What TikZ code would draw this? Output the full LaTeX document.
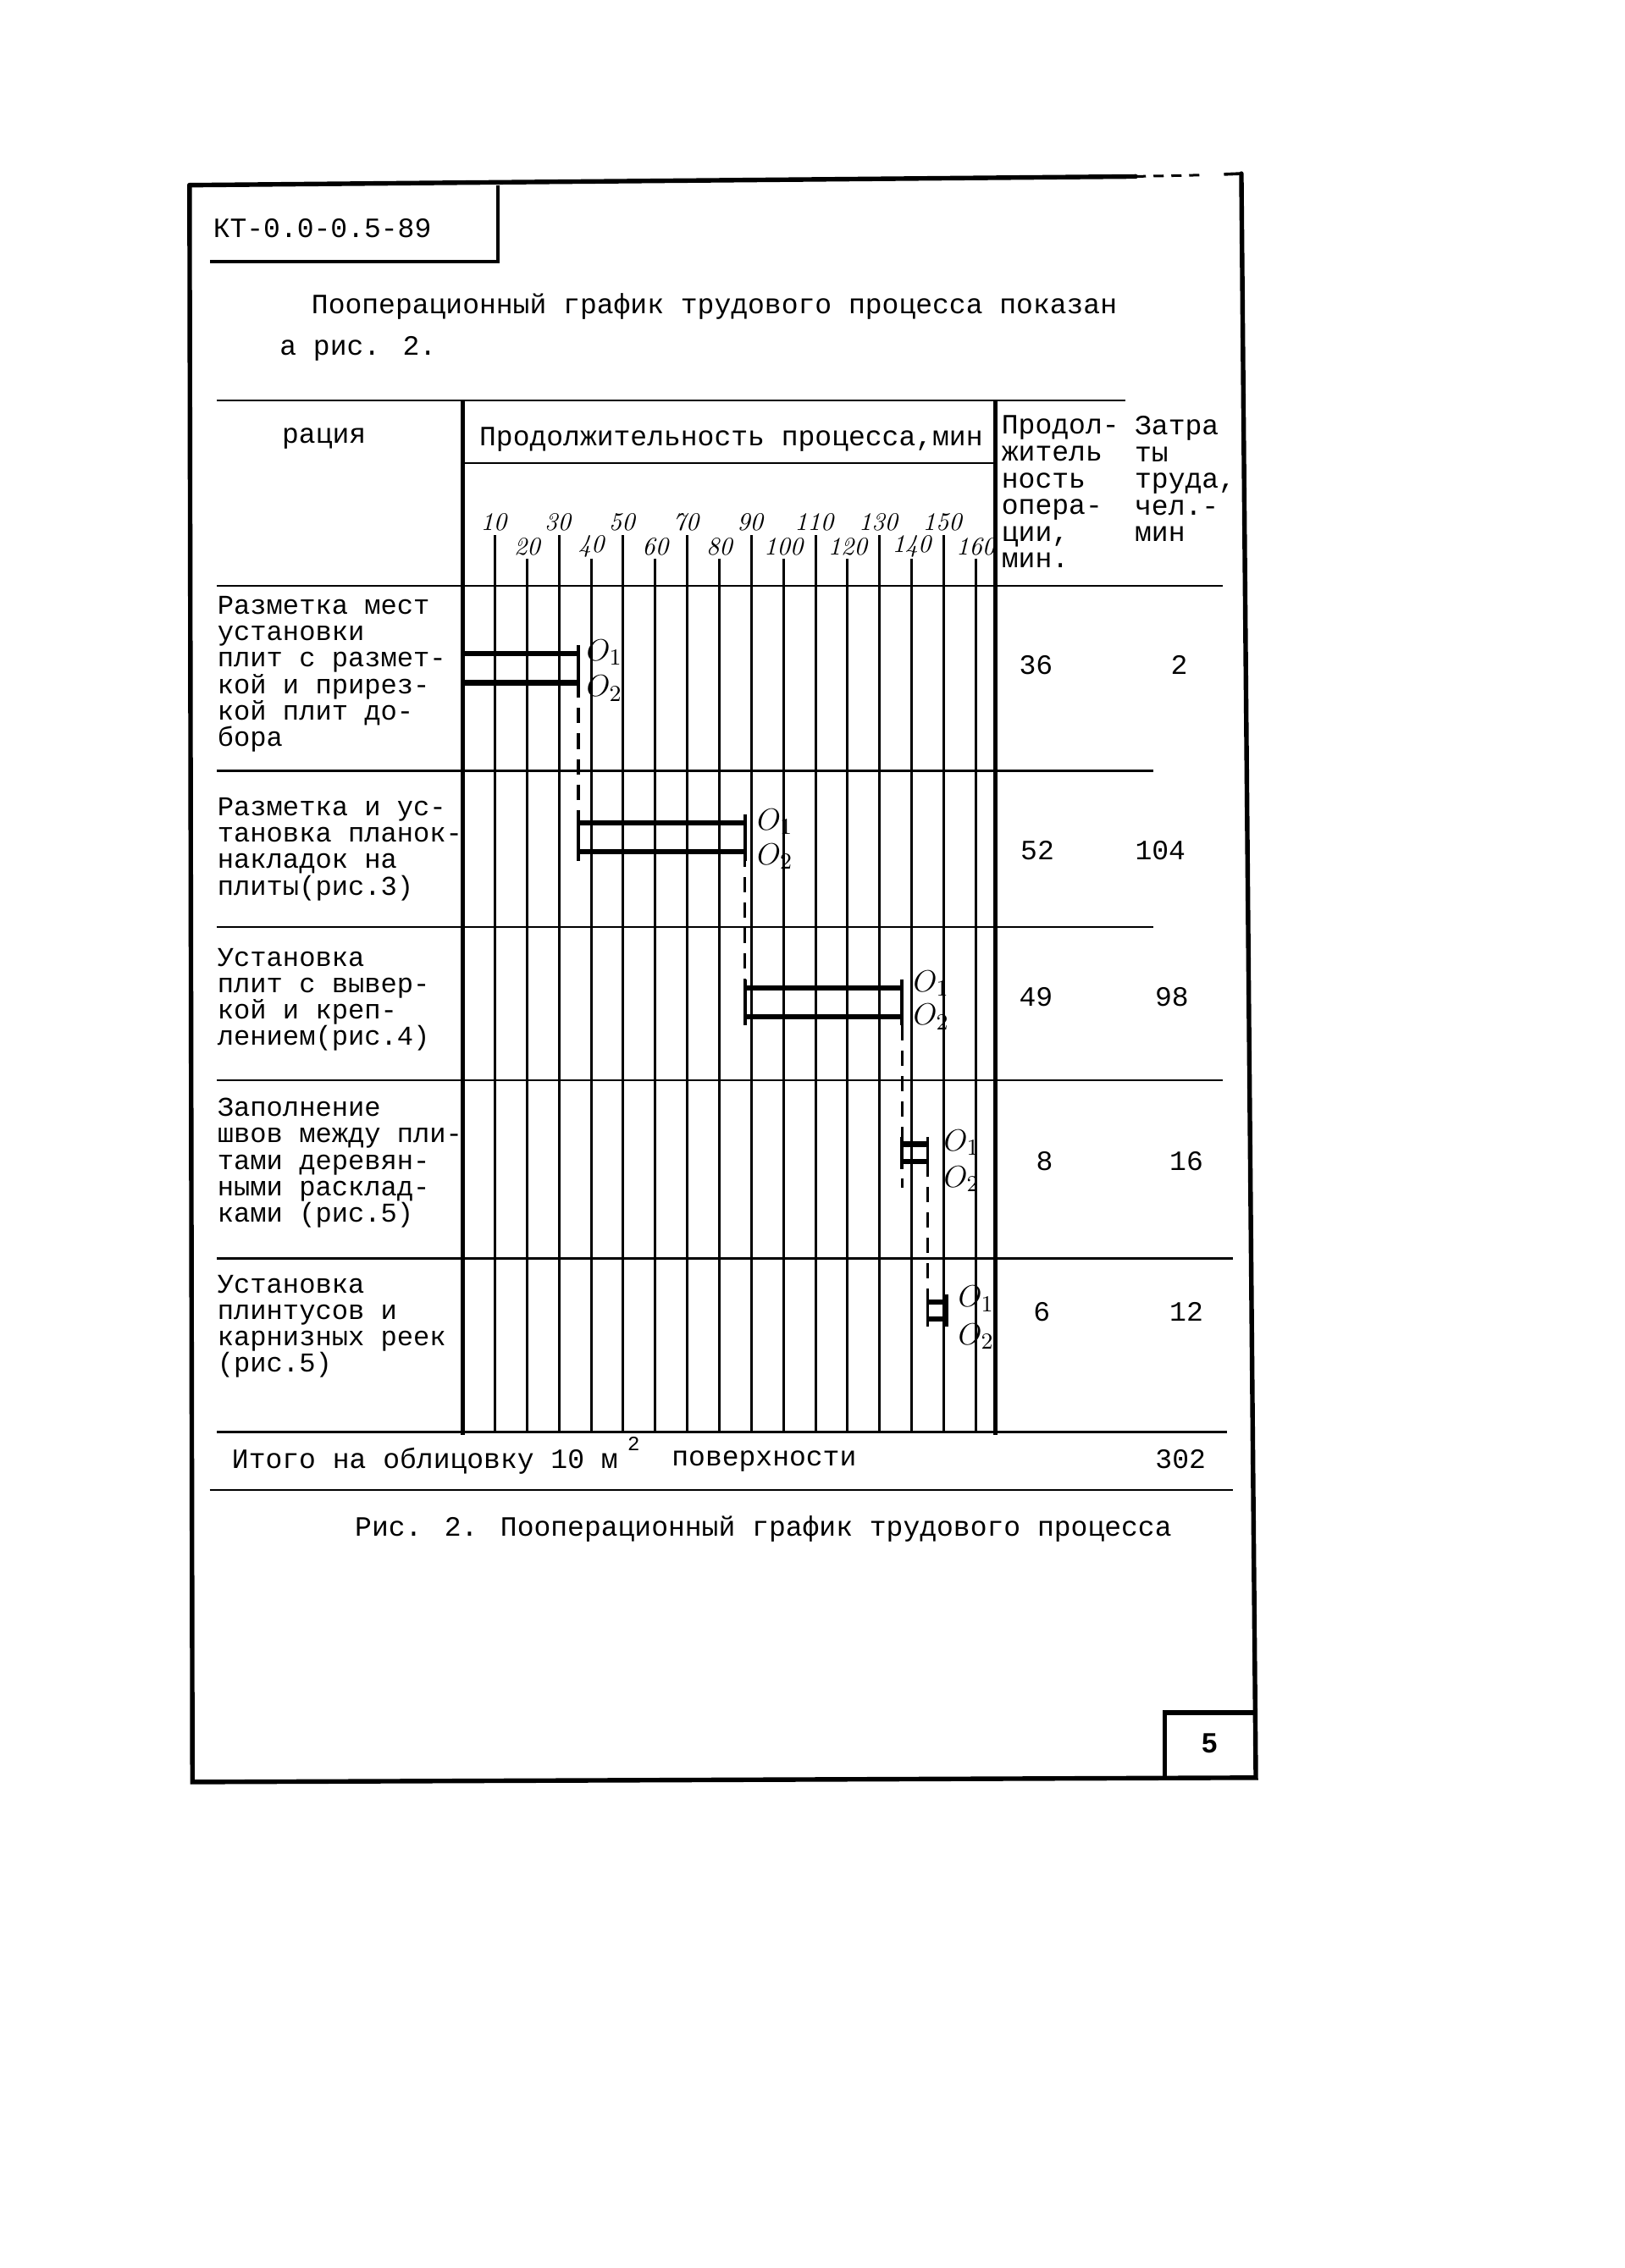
\documentclass[tikz,border=0pt]{standalone}
\usepackage{fontspec}
\newfontfamily\tw{Liberation Mono}
\newfontfamily\pnum{Liberation Sans}
\begin{document}
\begin{tikzpicture}[x=0.2mm,y=-0.2mm,
  frame/.style={line width=1.8pt, line cap=round},
  boxline/.style={line width=1.4pt},
  thinline/.style={line width=0.8pt},
  divider/.style={line width=1.5pt},
  gridline/.style={line width=1pt},
  barline/.style={line width=2.1pt},
  endtick/.style={line width=1.3pt},
  link/.style={line width=1.1pt, dash pattern=on 6pt off 4pt},
  txt/.style={font=\tw\fontsize{11}{10.5}\selectfont, inner sep=0pt, align=left},
  rowtxt/.style={font=\tw\fontsize{10.7}{10.4}\selectfont, inner sep=0pt, align=left, anchor=west},
  ttl/.style={txt, anchor=west},
  scalelbl/.style={font=\fontsize{10}{10}\selectfont\itshape, inner sep=0pt},
  olbl/.style={font=\fontsize{13}{13}\selectfont, inner sep=0pt, anchor=west},
]
\useasboundingbox[fill=white] (0,0) rectangle (1123,1568);

% outer frame
\coordinate (ftl) at (131,128);
\coordinate (ftm) at (785,122);
\coordinate (ftd) at (832,121);
\coordinate (ftn) at (846,120.5);
\coordinate (ftr) at (858,120);
\coordinate (fbr) at (868,1229);
\coordinate (fbl) at (133,1232);
\draw[frame] (ftl) -- (ftm);
\draw[line width=1pt, dash pattern=on 4pt off 3pt] (ftm) -- (ftd);
\draw[line width=1.2pt] (ftn) -- (ftr);
\draw[frame] (ftr) -- (fbr) -- (fbl) -- (ftl);

% document code box
\coordinate (cb1) at (344,128);
\coordinate (cb2) at (344,181);
\coordinate (cb3) at (145,181);
\draw[boxline] (cb1) -- (cb2) -- (cb3);
\node[ttl] (code) at (147,158) {КТ-0.0-0.5-89};

% paragraph
\node[ttl] (para1) at (215,212) {Пооперационный график трудового процесса показан};
\node[ttl] (para2) at (193,241) {а рис. 2.};

% table rules
\draw[thinline] (150,277) -- (778,277);
\draw[divider] (320,277) -- (320,992);
\draw[divider] (688,277) -- (688,992);
\draw[thinline] (320,320) -- (688,320);
\draw[thinline] (150,405) -- (845,405);
\draw[thinline] (150,533) -- (797,533);
\draw[thinline] (150,641) -- (797,641);
\draw[thinline] (150,747) -- (845,747);
\draw[thinline] (150,870) -- (852,870);
\draw[thinline] (150,990) -- (848,990);
\draw[thinline] (145,1030) -- (852,1030);

% header
\node[txt] (hop) at (224,303) {рация};
\node[ttl] (hdur) at (331,304) {Продолжительность процесса,мин};
\node[txt, anchor=west] (hopdur) at (692,340) {Продол-\\житель\\ность\\опера-\\ции,\\мин.};
\node[txt, anchor=west] (hlab) at (784,331) {Затра\\ты\\труда,\\чел.-\\мин};

% time grid
\foreach \t in {10,30,...,150} {
  \draw[gridline] ({320+2.215*\t},370) -- ({320+2.215*\t},990);
  \node[scalelbl] (s\t) at ({320+2.215*\t-1},361) {\t};
}
\foreach \t in {20,40,...,160} {
  \draw[gridline] ({320+2.215*\t},386) -- ({320+2.215*\t},990);
  \node[scalelbl] (s\t) at ({320+2.215*\t},378) {\t};
}

% operation names
\node[rowtxt] (r1) at (150,466) {Разметка мест\\установки\\плит с размет-\\кой и прирез-\\кой плит до-\\бора};
\node[rowtxt] (r2) at (150,587) {Разметка и ус-\\тановка планок-\\накладок на\\плиты(рис.3)};
\node[rowtxt] (r3) at (150,691) {Установка\\плит с вывер-\\кой и креп-\\лением(рис.4)};
\node[rowtxt] (r4) at (150,804) {Заполнение\\швов между пли-\\тами деревян-\\ными расклад-\\ками (рис.5)};
\node[rowtxt] (r5) at (150,917) {Установка\\плинтусов и\\карнизных реек\\(рис.5)};

% values
\node[txt] (d1) at (716,460) {36};
\node[txt] (w1) at (815,460) {2};
\node[txt] (d2) at (717,588) {52};
\node[txt] (w2) at (802,588) {104};
\node[txt] (d3) at (716,689) {49};
\node[txt] (w3) at (810,689) {98};
\node[txt] (d4) at (722,803) {8};
\node[txt] (w4) at (820,803) {16};
\node[txt] (d5) at (720,907) {6};
\node[txt] (w5) at (820,907) {12};

% bars: row 1 (0-36 min)
\coordinate (a1s) at (320,452);   \coordinate (a1e) at (399.7,452);
\coordinate (b1s) at (320,472);   \coordinate (b1e) at (399.7,472);
\draw[barline] (a1s) -- (a1e);
\draw[barline] (b1s) -- (b1e);
\draw[endtick] (399.7,446) -- (399.7,478);
\node[olbl] (o11) at (405,451) {$O_1$};
\node[olbl] (o12) at (405,476) {$O_2$};

% row 2 (36-88 min)
\coordinate (a2s) at (399.7,569); \coordinate (a2e) at (514.9,569);
\coordinate (b2s) at (399.7,589); \coordinate (b2e) at (514.9,589);
\draw[barline] (a2s) -- (a2e);
\draw[barline] (b2s) -- (b2e);
\draw[endtick] (399.7,563) -- (399.7,595);
\draw[endtick] (514.9,563) -- (514.9,595);
\node[olbl] (o21) at (523,568) {$O_1$};
\node[olbl] (o22) at (523,592) {$O_2$};

% row 3 (88-137 min)
\coordinate (a3s) at (514.9,683); \coordinate (a3e) at (623.5,683);
\coordinate (b3s) at (514.9,703); \coordinate (b3e) at (623.5,703);
\draw[barline] (a3s) -- (a3e);
\draw[barline] (b3s) -- (b3e);
\draw[endtick] (514.9,677) -- (514.9,709);
\draw[endtick] (623.5,677) -- (623.5,709);
\node[olbl] (o31) at (631,680) {$O_1$};
\node[olbl] (o32) at (631,703) {$O_2$};

% row 4 (137-145 min)
\coordinate (a4s) at (623.5,791); \coordinate (a4e) at (641.2,791);
\coordinate (b4s) at (623.5,803); \coordinate (b4e) at (641.2,803);
\draw[barline] (a4s) -- (a4e);
\draw[barline] (b4s) -- (b4e);
\draw[endtick] (623.5,786) -- (623.5,808);
\draw[endtick] (641.2,786) -- (641.2,808);
\node[olbl] (o41) at (652,790) {$O_1$};
\node[olbl] (o42) at (652,815) {$O_2$};

% row 5 (145-151 min)
\coordinate (a5s) at (641.2,900); \coordinate (a5e) at (654.5,900);
\coordinate (b5s) at (641.2,912); \coordinate (b5e) at (654.5,912);
\draw[barline] (a5s) -- (a5e);
\draw[barline] (b5s) -- (b5e);
\draw[endtick] (641.2,895) -- (641.2,917);
\draw[endtick] (654.5,895) -- (654.5,917);
\node[olbl] (o51) at (662,898) {$O_1$};
\node[olbl] (o52) at (662,924) {$O_2$};

% dashed links between operations
\draw[link] (b1e) -- (b2s);
\draw[link] (b2e) -- (b3s);
\draw[link] (623.5,709) -- (623.5,821);
\draw[link] (b4e) -- (b5s);

% total row
\node[ttl] (itogo) at (160,1010) {Итого на облицовку 10 м};
\node[txt, font=\tw\fontsize{8}{8}\selectfont] (sq) at (438,998) {2};
\node[ttl] (surf) at (464,1010) {поверхности};
\node[txt] (tot) at (816,1009) {302};

% caption
\node[ttl] (cap) at (245,1057) {Рис. 2. Пооперационный график трудового процесса};

% page number box
\coordinate (pb1) at (805,1229);
\coordinate (pb2) at (805,1184);
\coordinate (pb3) at (866,1184);
\draw[frame] (pb1) -- (pb2) -- (pb3);
\node[font=\pnum\bfseries\fontsize{11}{11}\selectfont, inner sep=0pt] (pg) at (836,1205) {5};
\end{tikzpicture}
\end{document}
